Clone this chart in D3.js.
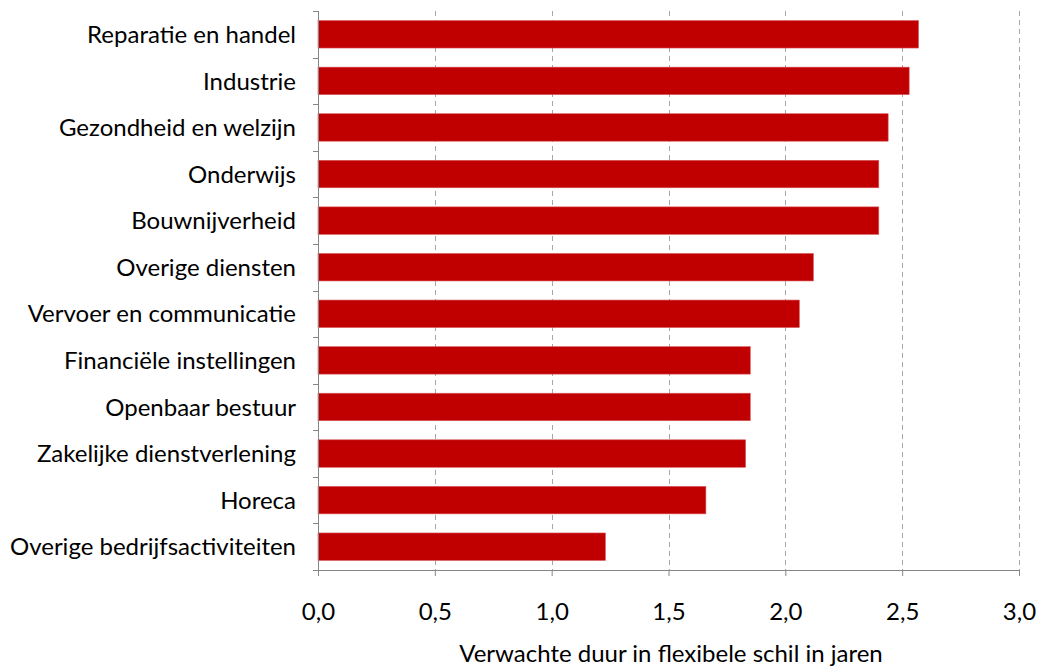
<!DOCTYPE html>
<html>
<head>
<meta charset="utf-8">
<script src="https://cdn.jsdelivr.net/npm/d3@7"></script>
<style>
  body { margin: 0; background: #fff; }
  svg { display: block; font-family: Lato, "Open Sans", sans-serif; }
</style>
</head>
<body>
<svg id="chart" width="1042" height="667"></svg>
<script>
// Sectors, top to bottom, and expected duration (years) in the flexible layer
const sectors = [
  "Reparatie en handel",
  "Industrie",
  "Gezondheid en welzijn",
  "Onderwijs",
  "Bouwnijverheid",
  "Overige diensten",
  "Vervoer en communicatie",
  "Financiële instellingen",
  "Openbaar bestuur",
  "Zakelijke dienstverlening",
  "Horeca",
  "Overige bedrijfsactiviteiten"
];
const durations = [2.57, 2.53, 2.44, 2.40, 2.40, 2.12, 2.06, 1.85, 1.85, 1.83, 1.66, 1.23];
const xTicks = [0, 0.5, 1, 1.5, 2, 2.5, 3];
const xTitle = "Verwachte duur in flexibele schil in jaren";

const svg = d3.select("#chart");
const plotLeft = 318, plotRight = 1019, plotTop = 11, plotBottom = 570;
const fontSize = 24;

const x = d3.scaleLinear().domain([0, 3]).range([plotLeft, plotRight]);
const y = d3.scaleBand().domain(sectors).range([plotTop, plotBottom]).paddingInner(0.41).paddingOuter(0.205);
const yEdges = d3.scaleBand().domain(sectors).range([plotTop, plotBottom]);

// dashed vertical gridlines
svg.append("g")
  .selectAll("line")
  .data(xTicks.slice(1))
  .join("line")
  .attr("x1", d => Math.round(x(d)) + 0.5).attr("x2", d => Math.round(x(d)) + 0.5)
  .attr("y1", plotTop).attr("y2", plotBottom)
  .attr("stroke", "#a6a6a6")
  .attr("stroke-width", 1)
  .attr("stroke-dasharray", "5,4");

// bars
svg.append("g")
  .selectAll("rect")
  .data(sectors)
  .join("rect")
  .attr("x", x(0))
  .attr("y", d => y(d))
  .attr("width", (d, i) => x(durations[i]) - x(0))
  .attr("height", y.bandwidth())
  .attr("fill", "#c00000")
  .attr("stroke", "#d9595c")
  .attr("stroke-width", 0.6);

// x axis
const xAxis = d3.axisBottom(x)
  .tickValues(xTicks)
  .tickSize(6)
  .tickPadding(27)
  .tickFormat(d => d3.format(".1f")(d).replace(".", ","));
const gx = svg.append("g").attr("transform", `translate(0,${plotBottom})`).call(xAxis);
gx.select(".domain").attr("stroke", "#868686").attr("d", `M${plotLeft},0.5H${plotRight}`);
gx.selectAll(".tick line").attr("stroke", "#868686");
gx.selectAll(".tick text").attr("font-size", fontSize).attr("fill", "#000").attr("font-family", "Lato, sans-serif");

// y axis line with tick marks at category boundaries
const gy = svg.append("g");
gy.append("line")
  .attr("x1", plotLeft + 0.5).attr("x2", plotLeft + 0.5)
  .attr("y1", plotTop).attr("y2", plotBottom)
  .attr("stroke", "#868686");
gy.selectAll("line.edge")
  .data(sectors.concat(["__end"]))
  .join("line")
  .attr("class", "edge")
  .attr("x1", plotLeft - 5).attr("x2", plotLeft)
  .attr("y1", (d, i) => Math.round(i < sectors.length ? yEdges(d) : plotBottom) + 0.5)
  .attr("y2", (d, i) => Math.round(i < sectors.length ? yEdges(d) : plotBottom) + 0.5)
  .attr("stroke", "#868686");

// category labels
svg.append("g")
  .selectAll("text")
  .data(sectors)
  .join("text")
  .attr("x", plotLeft - 22)
  .attr("y", d => y(d) + y.bandwidth() / 2)
  .attr("dy", "0.36em")
  .attr("text-anchor", "end")
  .attr("font-size", fontSize)
  .attr("fill", "#000")
  .text(d => d);

// axis title
svg.append("text")
  .attr("x", 671)
  .attr("y", 662)
  .attr("text-anchor", "middle")
  .attr("font-size", fontSize)
  .attr("fill", "#000")
  .text(xTitle);
</script>
</body>
</html>
